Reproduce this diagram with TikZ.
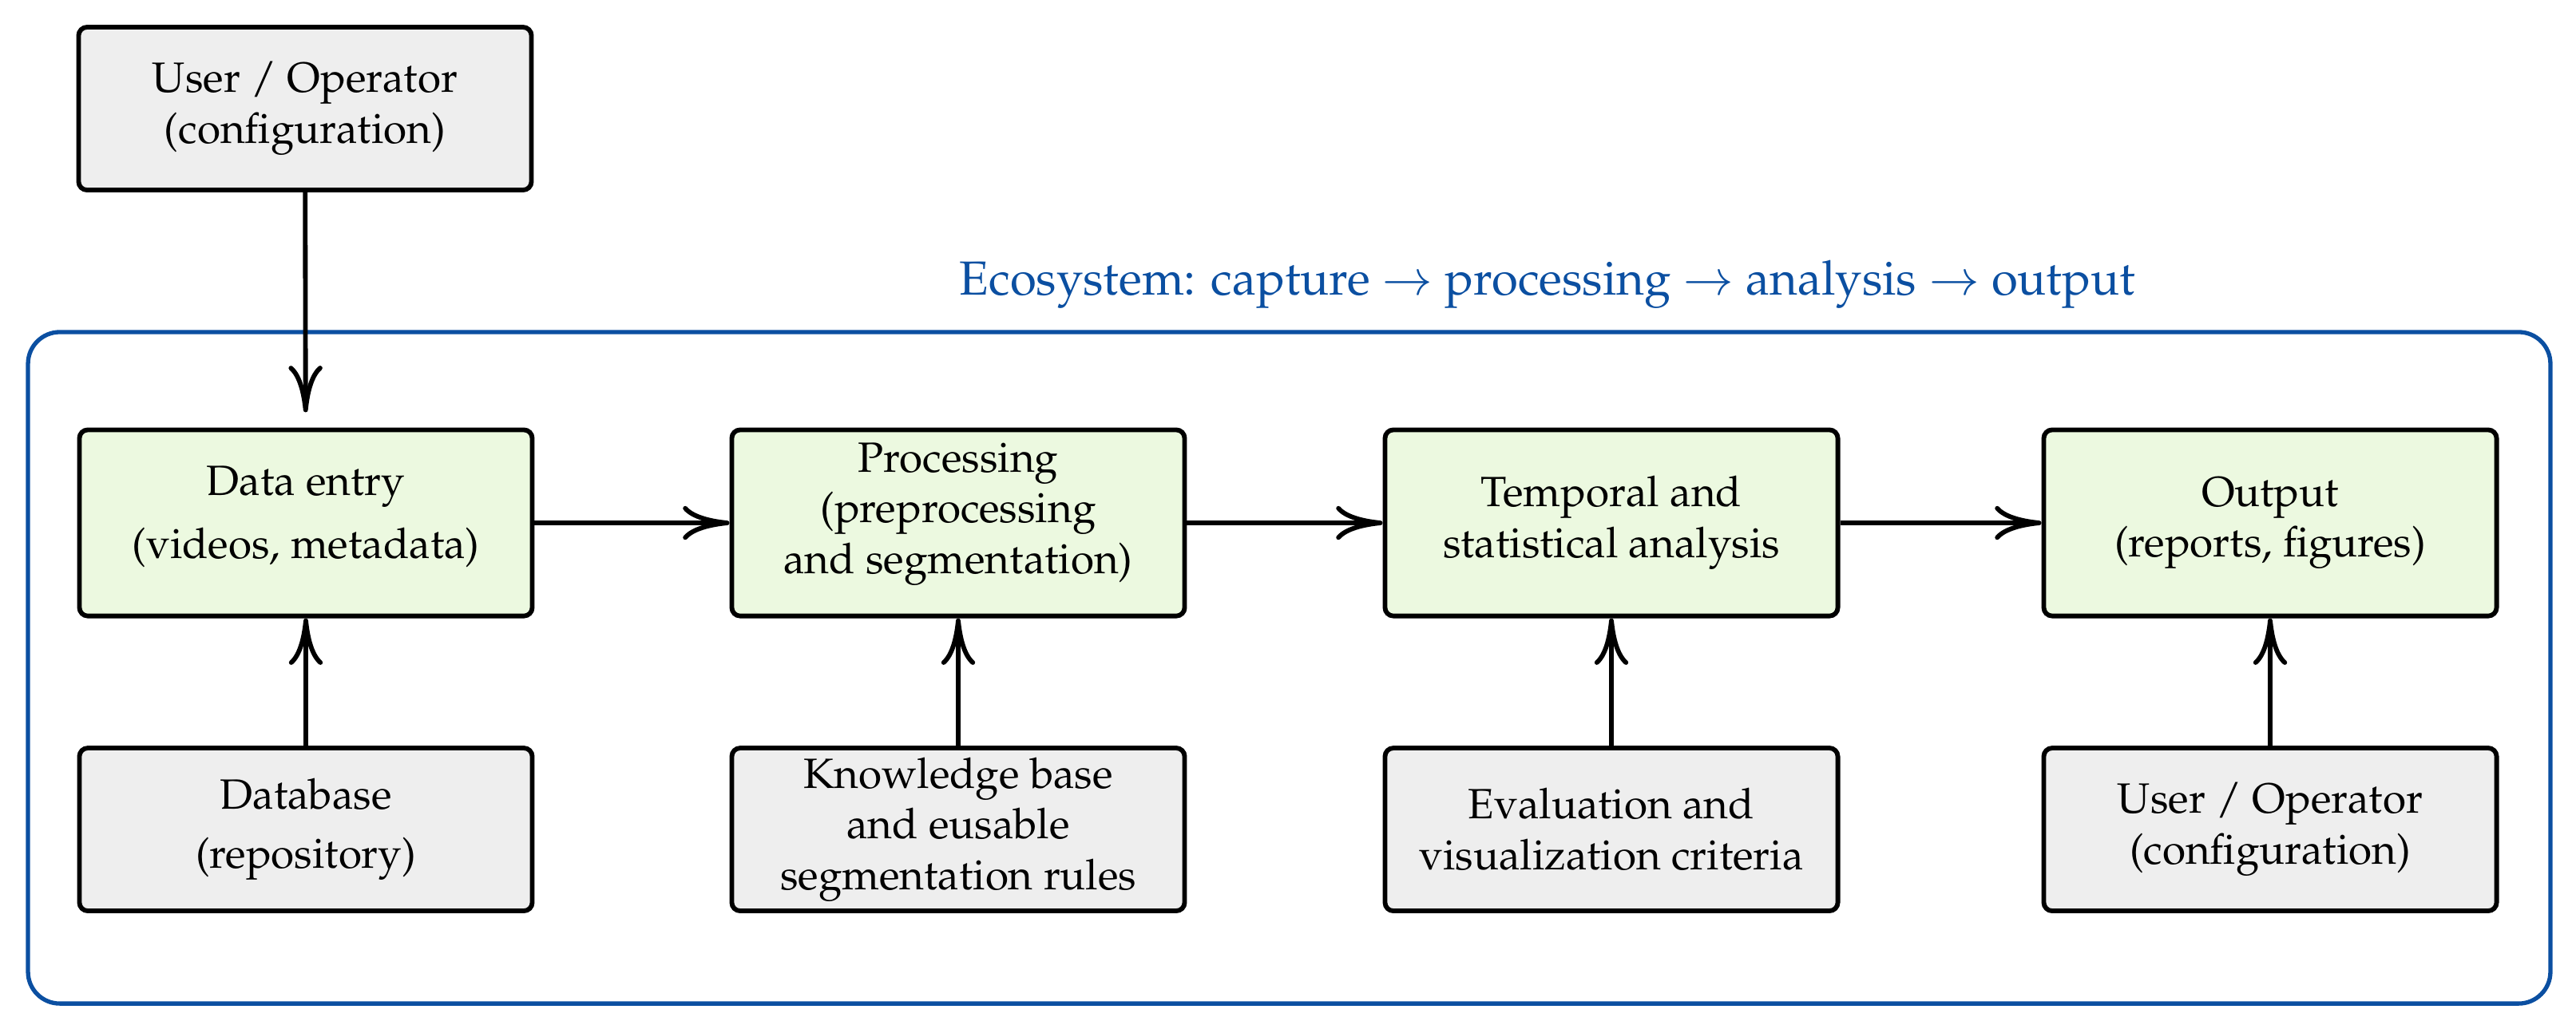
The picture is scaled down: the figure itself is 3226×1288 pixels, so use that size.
\documentclass[tikz,border=0pt]{standalone}
\usepackage[T1]{fontenc}
\usepackage{mathpazo}
\usetikzlibrary{arrows.meta}
\definecolor{ecoblue}{RGB}{11,79,161}
\definecolor{boxgreen}{RGB}{236,249,224}
\definecolor{boxgray}{RGB}{238,238,238}
\begin{document}
\begin{tikzpicture}[x=0.18868pt,y=-0.18868pt,
  box/.style={draw, line width=1.1pt, rounded corners=2pt, align=center,
    minimum width=107pt, inner sep=0pt, font=\fontsize{10}{12}\selectfont},
  greenbox/.style={box, fill=boxgreen, minimum height=44pt},
  graybox/.style={box, fill=boxgray, minimum height=38.5pt},
  arr/.style={-{Computer Modern Rightarrow[length=11pt,width=8pt]}, line width=1.1pt},
  frame/.style={draw=ecoblue, line width=1pt, rounded corners=7.5pt,
    minimum width=596pt, minimum height=158.7pt, inner sep=0pt},
  titletext/.style={text=ecoblue, font=\fontsize{11.3}{13}\selectfont, inner sep=0pt}
]
\useasboundingbox (0,0) rectangle (3226,1288);

\node[frame] (eco) at (1614.5,836.5) {};
\node[titletext] (title) at (1938,356) {Ecosystem: capture $\to$ processing $\to$ analysis $\to$ output};

\node[graybox] (user) at (382,136) {User / Operator\\(configuration)};

\node[greenbox, text depth=5pt] (entry) at (383,655) {Data entry\\[3pt](videos, metadata)};
\node[greenbox, text depth=7pt] (proc) at (1200,655) {Processing\\(preprocessing\\and segmentation)};
\node[greenbox] (temp) at (2018,655) {Temporal and\\statistical analysis};
\node[greenbox] (out) at (2843,655) {Output\\(reports, figures)};

\node[graybox] (db) at (383,1039) {Database\\[2pt](repository)};
\node[graybox] (kb) at (1200,1039) {Knowledge base\\and eusable\\segmentation rules};
\node[graybox] (eval) at (2018,1039) {Evaluation and\\visualization criteria};
\node[graybox] (user2) at (2843,1039) {User / Operator\\(configuration)};

\draw[arr, shorten >=3.6pt] (user) -- (entry);
\draw[arr] (entry) -- (proc);
\draw[arr] (proc) -- (temp);
\draw[arr] (temp) -- (out);
\draw[arr] (db) -- (entry);
\draw[arr] (kb) -- (proc);
\draw[arr] (eval) -- (temp);
\draw[arr] (user2) -- (out);
\end{tikzpicture}
\end{document}
